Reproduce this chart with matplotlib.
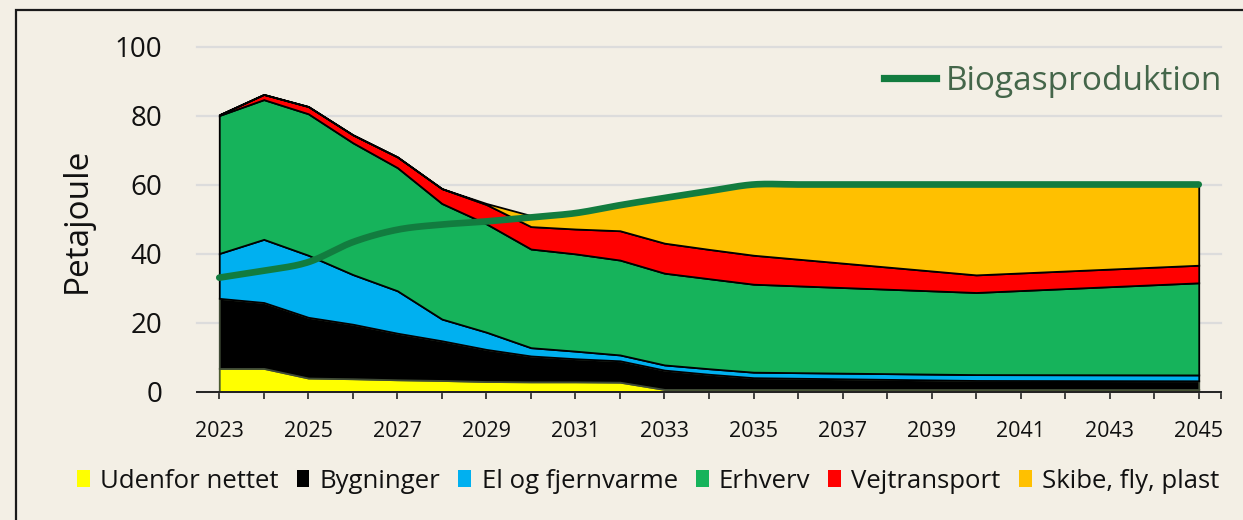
import numpy as np
import matplotlib
matplotlib.use("Agg")
import matplotlib.pyplot as plt
from matplotlib.patches import Patch, Rectangle
from matplotlib.lines import Line2D

plt.rcParams['font.family'] = ['Open Sans', 'DejaVu Sans']

# ---- data -------------------------------------------------------------
stack_years = [2023, 2024, 2025, 2026, 2027, 2028, 2029, 2030, 2031, 2032,
               2033, 2034, 2035, 2040, 2045]
udenfor = [6.7, 6.7, 3.9, 3.7, 3.4, 3.2, 2.9, 2.8, 2.8, 2.7, 0.6, 0.6, 0.6, 0.6, 0.6]
bygninger = [20.3, 19.1, 17.6, 15.8, 13.5, 11.5, 9.3, 7.5, 6.7, 6.2, 5.6, 4.4, 3.4, 2.6, 2.5]
el_fjernvarme = [13.0, 18.3, 18.0, 14.4, 12.3, 6.3, 5.0, 2.4, 2.2, 1.7, 1.5, 1.6, 1.6, 1.7, 1.7]
erhverv = [40.0, 40.5, 41.0, 38.2, 35.7, 33.5, 31.4, 28.6, 28.2, 27.5, 26.6, 26.1, 25.5, 23.8, 26.7]
vejtransport = [0.2, 1.5, 2.1, 2.3, 3.1, 4.3, 5.6, 6.5, 7.2, 8.5, 8.7, 8.5, 8.4, 5.1, 5.1]
skibe_fly_plast = [0.0, 0.0, 0.0, 0.0, 0.0, 0.0, 0.3, 3.2, 4.7, 7.4, 13.0, 16.8, 20.5, 26.2, 23.4]

bio_years = list(range(2023, 2046))
biogas = [33.0, 35.0, 37.5, 43.3, 46.9, 48.4, 49.3, 50.5, 51.7, 54.0, 56.1, 58.1, 60.0,
          60.0, 60.0, 60.0, 60.0, 60.0, 60.0, 60.0, 60.0, 60.0, 60.0]

series_labels = ['Udenfor nettet', 'Bygninger', 'El og fjernvarme', 'Erhverv',
                 'Vejtransport', 'Skibe, fly, plast']
series_colors = ['#FFFF00', '#000000', '#00B0F0', '#16B35B', '#FF0000', '#FFC000']
edge_colors = ['#4a5a30', '#3f4a36', '#000000', '#000000', '#000000', '#000000']
tick_years = list(range(2023, 2046))
label_years = list(range(2023, 2046, 2))
ylabel = 'Petajoule'
bio_label = 'Biogasproduktion'


def smooth(xs, ys, n=24):
    """Catmull-Rom rendering of a smoothed line (like Excel's smoothed line)."""
    xs = np.asarray(xs, float); ys = np.asarray(ys, float)
    P = np.column_stack([xs, ys])
    P = np.vstack([P[0], P, P[-1]])
    out = []
    for i in range(1, len(P) - 2):
        p0, p1, p2, p3 = P[i - 1], P[i], P[i + 1], P[i + 2]
        t = np.linspace(0, 1, n, endpoint=False)[:, None]
        seg = 0.5 * ((2 * p1) + (-p0 + p2) * t + (2 * p0 - 5 * p1 + 4 * p2 - p3) * t ** 2
                     + (-p0 + 3 * p1 - 3 * p2 + p3) * t ** 3)
        out.append(seg)
    out.append(P[-2][None, :])
    out = np.vstack(out)
    return out[:, 0], out[:, 1]


W, H = 1243, 520
bg = '#F3EFE5'
fig = plt.figure(figsize=(W / 100, H / 100), dpi=100, facecolor=bg)

# frame
fig.patches.append(Rectangle((16 / W, -0.1), 1.2, 1 - 10 / H + 0.1, transform=fig.transFigure,
                             fill=False, edgecolor='#1a1a1a', linewidth=1.6, zorder=0))

ax = fig.add_axes([197 / W, 1 - 391.5 / H, (1221 - 197) / W, (391.5 - 46.5) / H])
ax.set_facecolor('none')
ax.set_xlim(2022.5, 2045.5)
ax.set_ylim(0, 100)

polys = ax.stackplot(stack_years, udenfor, bygninger, el_fjernvarme, erhverv,
                     vejtransport, skibe_fly_plast, colors=series_colors, zorder=2)
for p, ec in zip(polys, edge_colors):
    p.set_edgecolor(ec)
    p.set_linewidth(1.3)
    p.set_joinstyle('miter')

bx, by = smooth(bio_years, biogas)
ax.plot(bx, by, color='#127C3F', lw=4.8, solid_capstyle='round', zorder=4)

# grid
ax.set_yticks([0, 20, 40, 60, 80, 100])
ax.yaxis.grid(True, color='#dcdcdc', lw=1.6, zorder=0)
ax.set_axisbelow(True)
for gl in ax.get_ygridlines():
    gl.set_clip_on(False)
ax.tick_params(axis='y', length=0, pad=25, labelsize=20, labelcolor='#111111')

ax.set_xticks(tick_years + [2045.5])
ax.set_xticklabels([str(y) if y in label_years else '' for y in tick_years] + [''])
ax.tick_params(axis='x', direction='out', length=5, width=1.2, color='#222222',
               pad=16, labelsize=15.5, labelcolor='#111111')

for s in ['left', 'right', 'top']:
    ax.spines[s].set_visible(False)
ax.spines['bottom'].set_color('#222222')
ax.spines['bottom'].set_linewidth(1.4)
ax.spines['bottom'].set_zorder(5)

fig.text(77 / W, 1 - 220 / H, ylabel, rotation=90, ha='center', va='center',
         fontsize=24, color='#111111')

# legends
handles = [Patch(facecolor=c, edgecolor='none') for c in series_colors]
leg = fig.legend(handles, series_labels, loc='center', bbox_to_anchor=(648 / W, 1 - 481 / H),
                 ncol=6, frameon=False, fontsize=18.5, handlelength=0.5, handleheight=0.65,
                 handletextpad=0.4, columnspacing=0.7, borderpad=0, borderaxespad=0)
for t in leg.get_texts():
    t.set_color('#111111')

bh = [Line2D([0], [0], color='#127C3F', lw=5.2)]
leg2 = fig.legend(bh, [bio_label], loc='center right', bbox_to_anchor=(1222 / W, 1 - 81 / H),
                  frameon=False, fontsize=24, handlelength=1.55, handletextpad=0.3,
                  borderpad=0, borderaxespad=0)
for t in leg2.get_texts():
    t.set_color('#44664A')

fig.savefig('out.png', dpi=100, facecolor=bg)
